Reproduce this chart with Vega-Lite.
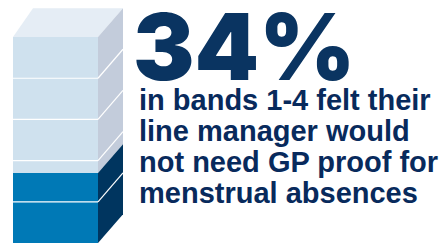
{
  "$schema": "https://vega.github.io/schema/vega-lite/v6.json",
  "width": 444,
  "height": 243,
  "autosize": {"type": "fit", "contains": "padding"},
  "padding": 0,
  "background": "white",
  "config": {"view": {"stroke": null}, "axis": {"disable": true}},
  "datasets": {
    "front": [
      {"part": "not need GP proof", "lo": 0, "hi": 34},
      {"part": "other", "lo": 34, "hi": 100}
    ],
    "sideFill": [
      {"edge": 98, "lo": 0, "hi": 34},
      {"edge": 123, "lo": 14, "hi": 48}
    ],
    "sideRest": [
      {"edge": 98, "lo": 34, "hi": 100},
      {"edge": 123, "lo": 48, "hi": 114}
    ],
    "top": [
      {"level": 100, "left": 13, "right": 98},
      {"level": 114, "left": 33, "right": 123}
    ],
    "grid": [{"v": 20}, {"v": 40}, {"v": 60}, {"v": 80}],
    "headline": [{"label": "34%"}],
    "caption": [{"label": "in bands 1-4 felt their\nline manager would\nnot need GP proof for\nmenstrual absences"}]
  },
  "layer": [
    {
      "data": {"name": "top"},
      "mark": {"type": "area", "orient": "horizontal", "color": "#e5edf5"},
      "encoding": {
        "y": {"field": "level", "type": "quantitative", "scale": {"domain": [0, 118], "nice": false, "zero": false}, "axis": null},
        "x": {"field": "left", "type": "quantitative", "scale": {"domain": [0, 444], "nice": false, "zero": false}, "axis": null},
        "x2": {"field": "right"}
      }
    },
    {
      "data": {"name": "sideRest"},
      "mark": {"type": "area", "color": "#c3ccdb"},
      "encoding": {
        "x": {"field": "edge", "type": "quantitative", "axis": null},
        "y": {"field": "lo", "type": "quantitative", "axis": null},
        "y2": {"field": "hi"}
      }
    },
    {
      "data": {"name": "sideFill"},
      "mark": {"type": "area", "color": "#00355f"},
      "encoding": {
        "x": {"field": "edge", "type": "quantitative", "axis": null},
        "y": {"field": "lo", "type": "quantitative", "axis": null},
        "y2": {"field": "hi"}
      }
    },
    {
      "data": {"name": "front"},
      "mark": {"type": "rect"},
      "encoding": {
        "x": {"datum": 13, "type": "quantitative", "axis": null},
        "x2": {"datum": 98},
        "y": {"field": "lo", "type": "quantitative", "axis": null},
        "y2": {"field": "hi"},
        "color": {"field": "part", "type": "nominal", "scale": {"domain": ["not need GP proof", "other"], "range": ["#0079b6", "#cfe1ee"]}, "legend": null}
      }
    },
    {
      "data": {"name": "grid"},
      "mark": {"type": "rule", "color": "white", "strokeWidth": 1.2},
      "encoding": {
        "x": {"datum": 13, "type": "quantitative", "axis": null},
        "x2": {"datum": 98},
        "y": {"field": "v", "type": "quantitative", "axis": null}
      }
    },
    {
      "data": {"name": "grid"},
      "mark": {"type": "rule", "color": "white", "strokeWidth": 1.2, "y2Offset": -29},
      "encoding": {
        "x": {"datum": 98, "type": "quantitative", "axis": null},
        "x2": {"datum": 123},
        "y": {"field": "v", "type": "quantitative", "axis": null},
        "y2": {"field": "v"}
      }
    },
    {
      "data": {"name": "headline"},
      "mark": {"type": "text", "align": "left", "baseline": "alphabetic", "font": "Inter", "fontWeight": 900, "fontSize": 92, "color": "#0a3461"},
      "encoding": {
        "x": {"datum": 133, "type": "quantitative", "axis": null},
        "y": {"datum": 79.2, "type": "quantitative", "axis": null},
        "text": {"field": "label"}
      }
    },
    {
      "data": {"name": "caption"},
      "mark": {"type": "text", "align": "left", "baseline": "alphabetic", "font": "Liberation Sans", "fontWeight": "bold", "fontSize": 29, "lineBreak": "\n", "lineHeight": 31, "color": "#082a5c"},
      "encoding": {
        "x": {"datum": 139, "type": "quantitative", "axis": null},
        "y": {"datum": 64.6, "type": "quantitative", "axis": null},
        "text": {"field": "label"}
      }
    }
  ]
}
